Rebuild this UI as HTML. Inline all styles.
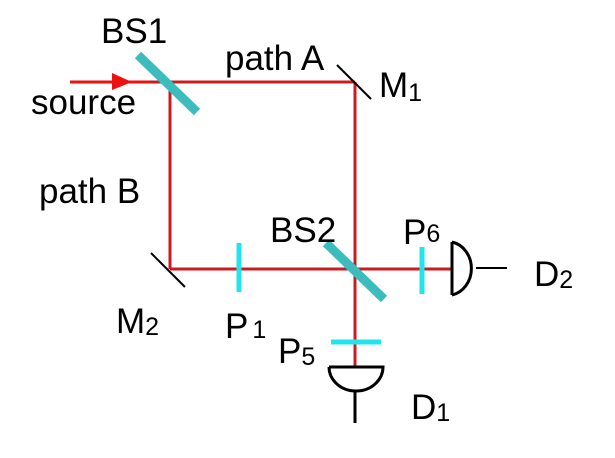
<!DOCTYPE html>
<html><head><meta charset="utf-8"><style>
html,body{margin:0;padding:0;background:#fff;}
svg{display:block;}
text{font-family:"Liberation Sans",Arial,sans-serif;fill:#000;}
</style></head><body>
<svg width="615" height="458" viewBox="0 0 615 458" xmlns="http://www.w3.org/2000/svg">
<rect width="615" height="458" fill="#fff"/>
<g stroke="#cc1b1f" stroke-width="3" fill="none">
<line x1="150" y1="82" x2="355" y2="82"/>
<line x1="170" y1="82" x2="170" y2="269"/>
<line x1="355" y1="82" x2="355" y2="367"/>
<line x1="170" y1="269" x2="452" y2="269"/>
</g>
<line x1="70" y1="82" x2="150" y2="82" stroke="#ee1111" stroke-width="3"/>
<polygon points="112,73 132,82 112,90" fill="#ee1111"/>
<g stroke="#3cbcbc" stroke-width="9">
<line x1="138" y1="55" x2="197" y2="112"/>
<line x1="326" y1="243" x2="384" y2="299"/>
</g>
<g stroke="#000" stroke-width="2">
<line x1="337" y1="65" x2="371" y2="99"/>
<line x1="151" y1="253" x2="185" y2="287"/>
</g>
<g stroke="#22e4ec" stroke-width="5">
<line x1="239" y1="243" x2="239" y2="292"/>
<line x1="422" y1="247" x2="422" y2="294"/>
<line x1="331" y1="342" x2="381" y2="342"/>
</g>
<g stroke="#000" stroke-width="3" fill="none">
<path d="M452,242 L452,295 M452,242 A24,27 0 0 1 452,295"/>
<line x1="476" y1="268" x2="507" y2="268" stroke-width="2"/>
<path d="M329,367 L383,367 A27,24 0 0 1 329,367"/>
<line x1="355" y1="391" x2="355" y2="423"/>
</g>
<g font-size="35">
<text x="101" y="43">BS1</text>
<text x="225" y="70">path A</text>
<text x="379" y="97">M<tspan font-size="25" dy="4">1</tspan></text>
<text x="31" y="114">source</text>
<text x="39" y="203">path B</text>
<text x="270" y="242">BS2</text>
<text x="403" y="244">P<tspan font-size="25" dy="-2">6</tspan></text>
<text x="534" y="286">D<tspan font-size="25" dy="2">2</tspan></text>
<text x="116" y="333">M<tspan font-size="25" dy="2">2</tspan></text>
<text x="225" y="338">P<tspan font-size="25" dx="4">1</tspan></text>
<text x="278" y="363">P<tspan font-size="25" dy="2">5</tspan></text>
<text x="411" y="419">D<tspan font-size="25" dy="2">1</tspan></text>
</g>
</svg>
</body></html>
